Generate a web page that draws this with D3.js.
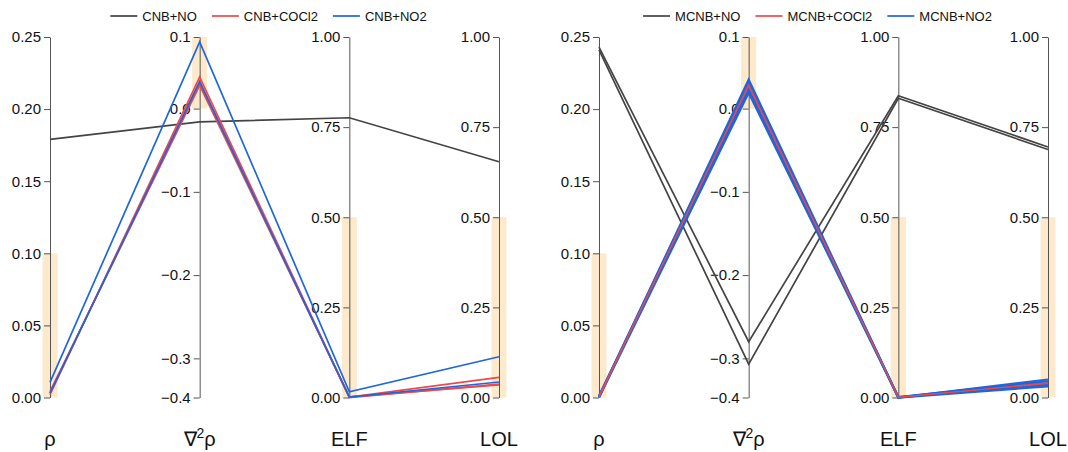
<!DOCTYPE html>
<html>
<head>
<meta charset="utf-8">
<script src="https://cdn.jsdelivr.net/npm/d3@7"></script>
<style>
  body { margin: 0; background: #fff; }
  svg { font-family: "Liberation Sans", Arial, sans-serif; }
  .axis path, .axis line { stroke: #555; }
  .axis text { font-size: 15px; fill: #111; }
</style>
</head>
<body>
<svg width="1068" height="452"></svg>
<script>
// dimensions: rho, laplacian of rho, ELF, LOL
const dims = ["rho", "lap", "elf", "lol"];

// Left panel (CNB)
const cnbNO    = [[0.179, -0.016, 0.776, 0.654]];
const cnbCOCl2 = [[0.002, 0.038, 0.001, 0.056],
                  [0.003, 0.033, 0.000, 0.037],
                  [0.004, 0.028, 0.002, 0.035]];
const cnbNO2   = [[0.0105, 0.080, 0.016, 0.113],
                  [0.003, 0.032, 0.001, 0.043]];

// Right panel (MCNB)
const mcnbNO    = [[0.243, -0.280, 0.837, 0.695],
                   [0.241, -0.307, 0.830, 0.688]];
const mcnbCOCl2 = [[0.000, 0.029, 0.000, 0.041],
                   [0.001, 0.027, 0.001, 0.039]];
const mcnbNO2   = [[0.000, 0.035, 0.000, 0.050],
                   [0.001, 0.031, 0.001, 0.045],
                   [0.0005, 0.027, 0.000, 0.040],
                   [0.001, 0.023, 0.001, 0.035],
                   [0.000, 0.019, 0.000, 0.031]];

// axis domains and ticks
const rhoDomain = [0, 0.25];
const lapDomain = [-0.347, 0.086];
const elfDomain = [0, 1];
const lolDomain = [0, 1];
const rhoTicks = [0, 0.05, 0.10, 0.15, 0.20, 0.25];
const lapTicks = [lapDomain[1], 0, -0.1, -0.2, -0.3, lapDomain[0]];
const lapTickLabels = ["0.1", "0.0", "\u22120.1", "\u22120.2", "\u22120.3", "\u22120.4"];
const unitTicks = [0, 0.25, 0.5, 0.75, 1.0];

// highlighted ranges on each axis
const bands = [[0, 0.10], [0, lapDomain[1]], [0, 0.5], [0, 0.5]];

const colors = { NO: "#444444", COCl2: "#ef4848", NO2: "#1f66dc" };

const svg = d3.select("svg");
const yTop = 37, yBottom = 397.5;

function drawPanel(x0, x1, prefix, groups, drawOrder, widths) {
    const x = d3.scalePoint().domain(dims).range([x0, x1]);
    const y = {
        rho: d3.scaleLinear().domain(rhoDomain).range([yBottom, yTop]),
        lap: d3.scaleLinear().domain(lapDomain).range([yBottom, yTop]),
        elf: d3.scaleLinear().domain(elfDomain).range([yBottom, yTop]),
        lol: d3.scaleLinear().domain(lolDomain).range([yBottom, yTop])
    };
    const g = svg.append("g");

    // bands
    g.selectAll(".band")
        .data(dims)
        .enter().append("rect")
        .attr("x", d => x(d) - 7.5)
        .attr("width", 15)
        .attr("y", (d, i) => y[d](bands[i][1]))
        .attr("height", (d, i) => y[d](bands[i][0]) - y[d](bands[i][1]))
        .attr("fill", "#fde9cc");

    // axes
    const axes = {
        rho: d3.axisLeft(y.rho).tickValues(rhoTicks).tickFormat(d3.format(".2f")),
        lap: d3.axisLeft(y.lap).tickValues(lapTicks).tickFormat((d, i) => lapTickLabels[i]),
        elf: d3.axisLeft(y.elf).tickValues(unitTicks).tickFormat(d3.format(".2f")),
        lol: d3.axisLeft(y.lol).tickValues(unitTicks).tickFormat(d3.format(".2f"))
    };
    dims.forEach(d => {
        g.append("g")
            .attr("class", "axis")
            .attr("transform", "translate(" + x(d) + ",0)")
            .call(axes[d].tickSizeOuter(0))
            .call(a => a.select(".domain").attr("stroke", "#555"));
    });

    // lines
    const line = d3.line()
        .x((v, i) => x(dims[i]))
        .y((v, i) => y[dims[i]](v));
    drawOrder.forEach(k => {
        const grp = groups.find(gr => gr.key === k);
        g.selectAll(".l-" + grp.key)
            .data(grp.rows)
            .enter().append("path")
            .attr("d", line)
            .attr("fill", "none")
            .attr("stroke", colors[grp.key])
            .attr("stroke-width", widths[k]);
    });

    // titles
    const titles = g.selectAll(".title")
        .data(dims)
        .enter().append("text")
        .attr("x", d => x(d))
        .attr("y", 446)
        .attr("text-anchor", "middle")
        .attr("font-size", "20px")
        .attr("fill", "#111");
    titles.each(function (d) {
        const t = d3.select(this);
        if (d === "rho") t.text("\u03c1");
        if (d === "lap") {
            t.append("tspan").text("\u2207");
            t.append("tspan").attr("font-size", "14px").attr("dy", -8).text("2");
            t.append("tspan").attr("dy", 8).text("\u03c1");
        }
        if (d === "elf") t.text("ELF");
        if (d === "lol") t.text("LOL");
    });

    // legend
    const leg = g.append("g");
    let cx = 0;
    groups.forEach(grp => {
        const item = leg.append("g").attr("transform", "translate(" + cx + ",0)");
        item.append("line")
            .attr("x1", 0).attr("x2", 27)
            .attr("y1", 0).attr("y2", 0)
            .attr("stroke", colors[grp.key]).attr("stroke-width", 1.7);
        const t = item.append("text")
            .attr("x", 32).attr("y", 4.5)
            .attr("font-size", "13px")
            .attr("fill", "#111")
            .text(prefix + "+" + grp.key);
        cx += 32 + t.node().getComputedTextLength() + 15;
    });
    cx -= 15;
    leg.attr("transform", "translate(" + ((x0 + x1) / 2 - 6 - cx / 2) + ",16)");
}

drawPanel(50, 499, "CNB", [
    { key: "NO", rows: cnbNO },
    { key: "COCl2", rows: cnbCOCl2 },
    { key: "NO2", rows: cnbNO2 }
], ["NO", "COCl2", "NO2"], { NO: 1.7, COCl2: 1.7, NO2: 1.7 });
drawPanel(599, 1048, "MCNB", [
    { key: "NO", rows: mcnbNO },
    { key: "COCl2", rows: mcnbCOCl2 },
    { key: "NO2", rows: mcnbNO2 }
], ["NO", "NO2", "COCl2"], { NO: 1.7, COCl2: 1.1, NO2: 2.2 });
</script>
</body>
</html>
